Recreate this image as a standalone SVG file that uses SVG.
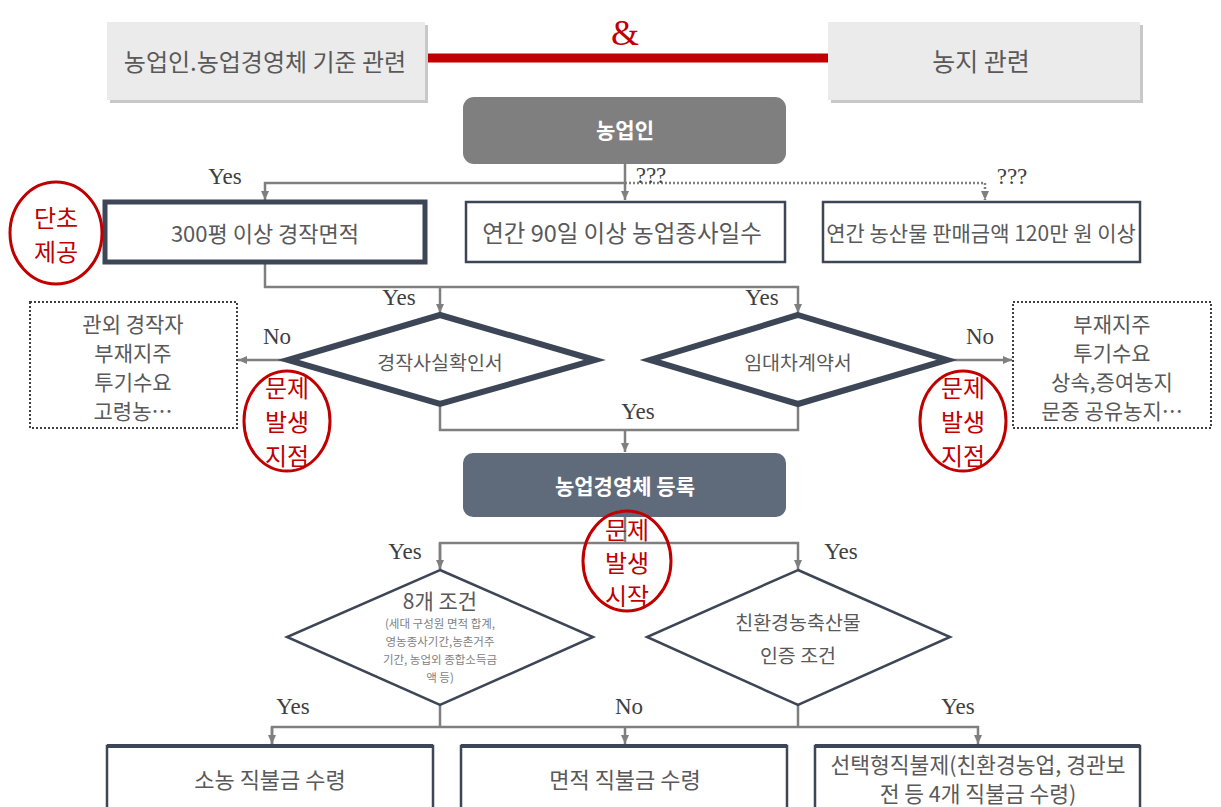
<svg xmlns="http://www.w3.org/2000/svg" width="1221" height="807" viewBox="0 0 1221 807">
<defs>
<style>
.kr{font-family:"Noto Sans CJK KR","Liberation Sans",sans-serif;fill:#595959;text-anchor:middle;dominant-baseline:central}
.lbl{font-family:"Liberation Serif",serif;fill:#404040;font-size:23px;text-anchor:middle;dominant-baseline:central}
.red{font-family:"Noto Sans CJK KR",sans-serif;fill:#c00000;font-size:24px;text-anchor:middle;dominant-baseline:central}
.hdr{fill:#ebebeb}
.shadow{fill:#c8c8c8}
.box{fill:#fff;stroke:#3d4656;stroke-width:2.5}
.thick{fill:#fff;stroke:#3d4656;stroke-width:5}
.dia{fill:#fff;stroke:#3d4656;stroke-width:6}
.dia2{fill:#fff;stroke:#3d4656;stroke-width:2.5}
.dot{fill:#fff;stroke:#404040;stroke-width:2;stroke-dasharray:2 2}
.circ{fill:none;stroke:#c00000;stroke-width:3}
.con{fill:none;stroke:#7f7f7f;stroke-width:2.5}
.cond{fill:none;stroke:#7f7f7f;stroke-width:2.5;stroke-dasharray:2 2}
.wb{font-family:"Noto Sans CJK KR",sans-serif;fill:#fff;font-weight:bold;font-size:21px;text-anchor:middle;dominant-baseline:central}
</style>
<marker id="arr" markerWidth="10" markerHeight="10" refX="9" refY="5" orient="auto" markerUnits="userSpaceOnUse">
<path d="M0,1 L9,5 L0,9 z" fill="#7f7f7f"/>
</marker>
</defs>
<rect width="1221" height="807" fill="#fff"/>

<g id="connectors">
<line x1="425" y1="58" x2="828" y2="58" stroke="#c00000" stroke-width="9"/>
<path class="con" d="M625,164 V183 H265 V200" marker-end="url(#arr)"/>
<path class="con" d="M625,183 V200" marker-end="url(#arr)"/>
<path class="cond" d="M625,183 H985 V200" marker-end="url(#arr)"/>
<path class="con" d="M265,262 V287 H798 V313" marker-end="url(#arr)"/>
<path class="con" d="M440,287 V313" marker-end="url(#arr)"/>
<path class="con" d="M288,360 H238" marker-end="url(#arr)"/>
<path class="con" d="M947,360 H1012" marker-end="url(#arr)"/>
<path class="con" d="M440,404 V430 H798 V404"/>
<path class="con" d="M625,430 V452" marker-end="url(#arr)"/>
<path class="con" d="M625,517 V543"/>
<path class="con" d="M440,569 V543 H798 V569" marker-end="url(#arr)"/>
<path class="con" d="M440,543 V569" marker-end="url(#arr)"/>
<path class="con" d="M440,705 V727"/>
<path class="con" d="M798,705 V727"/>
<path class="con" d="M272,744 V727 H978 V744" marker-end="url(#arr)"/>
<path class="con" d="M272,727 V744" marker-end="url(#arr)"/>
<path class="con" d="M625,727 V744" marker-end="url(#arr)"/>
<text class="lbl" x="625" y="33" style="fill:#c00000;font-size:36px">&amp;</text>
<text class="lbl" x="225" y="176">Yes</text>
<text class="lbl" x="651" y="175">???</text>
<text class="lbl" x="1012" y="176">???</text>
<text class="lbl" x="399" y="297">Yes</text>
<text class="lbl" x="762" y="297">Yes</text>
<text class="lbl" x="277" y="336">No</text>
<text class="lbl" x="980" y="336">No</text>
<text class="lbl" x="638" y="411">Yes</text>
<text class="lbl" x="405" y="551">Yes</text>
<text class="lbl" x="841" y="551">Yes</text>
<text class="lbl" x="293" y="706">Yes</text>
<text class="lbl" x="629" y="706">No</text>
<text class="lbl" x="958" y="706">Yes</text>
</g>

<g id="hdr-left">
<rect class="shadow" x="110" y="25" width="318" height="78"/>
<rect class="hdr" x="107" y="22" width="318" height="78"/>
<text class="kr" x="265" y="60" style="font-size:24px">농업인.농업경영체 기준 관련</text>
</g>
<g id="hdr-right">
<rect class="shadow" x="831" y="25" width="312" height="78"/>
<rect class="hdr" x="828" y="22" width="312" height="78"/>
<text class="kr" x="981" y="60" style="font-size:25px">농지 관련</text>
</g>

<g id="farmer">
<rect x="463" y="97" width="323" height="67" rx="11" fill="#7f7f7f"/>
<text class="wb" x="625" y="129">농업인</text>
</g>

<g id="area">
<rect class="thick" x="105" y="202" width="320" height="60"/>
<text class="kr" x="265" y="232" style="font-size:22px">300평 이상 경작면적</text>
</g>
<g id="days">
<rect class="box" x="466" y="202" width="319" height="60"/>
<text class="kr" x="622" y="232" style="font-size:23.5px">연간 90일 이상 농업종사일수</text>
</g>
<g id="sales">
<rect class="box" x="823" y="202" width="317" height="60"/>
<text class="kr" x="981" y="232" style="font-size:21px">연간 농산물 판매금액 120만 원 이상</text>
</g>

<g id="clue">
<ellipse class="circ" cx="56" cy="233" rx="46" ry="51"/>
<text class="red" x="56" y="216">단초</text>
<text class="red" x="56" y="250">제공</text>
</g>

<g id="confirm">
<polygon class="dia" points="440,315 595,360 440,404 288,360"/>
<text class="kr" x="440" y="361" style="font-size:19.5px">경작사실확인서</text>
</g>
<g id="lease">
<polygon class="dia" points="798,315 947,360 798,404 650,360"/>
<text class="kr" x="798" y="361" style="font-size:19.5px">임대차계약서</text>
</g>

<g id="left-no">
<rect class="dot" x="30" y="302" width="207" height="126"/>
<text class="kr" x="133" y="323" style="font-size:21px">관외 경작자</text>
<text class="kr" x="133" y="352" style="font-size:21px">부재지주</text>
<text class="kr" x="133" y="381" style="font-size:21px">투기수요</text>
<text class="kr" x="133" y="410" style="font-size:21px">고령농…</text>
</g>
<g id="right-no">
<rect class="dot" x="1013" y="302" width="198" height="126"/>
<text class="kr" x="1112" y="323" style="font-size:21px">부재지주</text>
<text class="kr" x="1112" y="352" style="font-size:21px">투기수요</text>
<text class="kr" x="1112" y="381" style="font-size:21px">상속,증여농지</text>
<text class="kr" x="1112" y="410" style="font-size:21px">문중 공유농지…</text>
</g>

<g id="issue-left">
<ellipse class="circ" cx="287" cy="421" rx="43" ry="50"/>
<text class="red" x="287" y="386">문제</text>
<text class="red" x="287" y="420">발생</text>
<text class="red" x="287" y="454">지점</text>
</g>
<g id="issue-right">
<ellipse class="circ" cx="963" cy="421" rx="43" ry="50"/>
<text class="red" x="963" y="386">문제</text>
<text class="red" x="963" y="420">발생</text>
<text class="red" x="963" y="454">지점</text>
</g>

<g id="register">
<rect x="463" y="453" width="323" height="64" rx="10" fill="#5f6a7a"/>
<text class="wb" x="625" y="485">농업경영체 등록</text>
</g>

<g id="issue-start">
<ellipse class="circ" cx="627" cy="561" rx="44" ry="50"/>
<text class="red" x="627" y="528">문제</text>
<text class="red" x="627" y="561">발생</text>
<text class="red" x="627" y="594">시작</text>
</g>

<g id="eight">
<polygon class="dia2" points="440,570 593,637 440,705 287,637"/>
<text class="kr" x="440" y="600" style="font-size:21px">8개 조건</text>
<text class="kr" x="440" y="623" style="font-size:11.5px;fill:#7f7f7f">(세대 구성원 면적 합계,</text>
<text class="kr" x="440" y="641" style="font-size:11.5px;fill:#7f7f7f">영농종사기간,농촌거주</text>
<text class="kr" x="440" y="659" style="font-size:11.5px;fill:#7f7f7f">기간, 농업외 종합소득금</text>
<text class="kr" x="440" y="677" style="font-size:11.5px;fill:#7f7f7f">액 등)</text>
</g>
<g id="eco">
<polygon class="dia2" points="798,570 950,637 798,705 647,637"/>
<text class="kr" x="798" y="621" style="font-size:19.5px">친환경농축산물</text>
<text class="kr" x="798" y="654" style="font-size:19.5px">인증 조건</text>
</g>

<g id="small">
<rect class="box" x="107" y="746" width="326" height="70"/>
<line x1="107" y1="746" x2="433" y2="746" stroke="#3d4656" stroke-width="4"/>
<text class="kr" x="270" y="778" style="font-size:22px">소농 직불금 수령</text>
</g>
<g id="areapay">
<rect class="box" x="461" y="746" width="326" height="70"/>
<line x1="461" y1="746" x2="787" y2="746" stroke="#3d4656" stroke-width="4"/>
<text class="kr" x="625" y="778" style="font-size:22px">면적 직불금 수령</text>
</g>
<g id="select">
<rect class="box" x="815" y="746" width="325" height="70"/>
<line x1="815" y1="746" x2="1140" y2="746" stroke="#3d4656" stroke-width="4"/>
<text class="kr" x="978" y="763" style="font-size:21.5px">선택형직불제(친환경농업, 경관보</text>
<text class="kr" x="978" y="792" style="font-size:21.5px">전 등 4개 직불금 수령)</text>
</g>
</svg>
